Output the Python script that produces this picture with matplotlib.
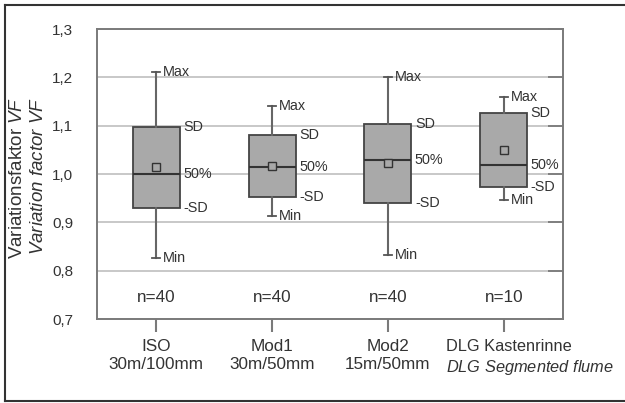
import matplotlib
matplotlib.use('Agg')
import matplotlib.pyplot as plt
from matplotlib.lines import Line2D
from matplotlib.transforms import ScaledTranslation

plt.rcParams['font.family'] = ['Liberation Sans', 'DejaVu Sans']
plt.rcParams['mathtext.fontset'] = 'custom'
plt.rcParams['mathtext.rm'] = 'Liberation Sans'
plt.rcParams['mathtext.it'] = 'Liberation Sans:italic'

# values
groups = ['ISO\n30m/100mm', 'Mod1\n30m/50mm', 'Mod2\n15m/50mm',
          'DLG Kastenrinne\n$\\mathit{DLG\\ Segmented\\ flume}$']
vmax = [1.212, 1.141, 1.200, 1.160]
sd_hi = [1.098, 1.081, 1.103, 1.126]
median = [1.000, 1.015, 1.030, 1.019]
sd_lo = [0.929, 0.952, 0.939, 0.974]
vmin = [0.826, 0.913, 0.832, 0.946]
mean = [1.015, 1.017, 1.022, 1.050]
counts = [40, 40, 40, 10]
yticks = [0.7, 0.8, 0.9, 1.0, 1.1, 1.2, 1.3]

txt = '#333333'
fill = '#a9a9a9'
axcol = '#7a7a7a'

fig = plt.figure(figsize=(6.25, 4.03), dpi=100)
ax = fig.add_axes([0.1552, 0.2084, 0.7456, 0.7196])

stats = []
for i in range(len(groups)):
    stats.append(dict(med=median[i], q1=sd_lo[i], q3=sd_hi[i],
                      whislo=vmin[i], whishi=vmax[i], mean=mean[i], fliers=[]))

pos = [1, 2, 3, 4]
bw = 0.405
ax.bxp(stats, positions=pos, widths=bw, capwidths=0.07, patch_artist=True,
       showmeans=True, showfliers=False,
       boxprops=dict(facecolor=fill, edgecolor='#444444', lw=1.3),
       medianprops=dict(color='#333333', lw=1.5),
       whiskerprops=dict(color='#666666', lw=1.5),
       capprops=dict(color='#555555', lw=1.3),
       meanprops=dict(marker='s', markersize=6, markerfacecolor=fill,
                      markeredgecolor='#333333', markeredgewidth=1),
       zorder=3)

# annotations next to each box
for i, p in enumerate(pos):
    ax.text(p + 0.06, vmax[i], 'Max', ha='left', va='center', fontsize=10.4, color=txt)
    ax.text(p + 0.06, vmin[i], 'Min', ha='left', va='center', fontsize=10.4, color=txt)
    xb = p + bw / 2 + 0.03
    ax.text(xb, sd_hi[i], 'SD', ha='left', va='center', fontsize=10.4, color=txt)
    ax.text(xb, median[i], '50%', ha='left', va='center', fontsize=10.4, color=txt)
    ax.text(xb, sd_lo[i], '-SD', ha='left', va='center', fontsize=10.4, color=txt)
    ax.text(p, 0.745, f'n={counts[i]}', ha='center', va='center', fontsize=12.3, color=txt)

ax.set_xlim(0.49, 4.51)
ax.set_ylim(0.7, 1.3)
ax.set_yticks(yticks)
ax.set_yticklabels([f'{v:.1f}'.replace('.', ',') for v in yticks])
ax.set_xticks(pos)
ax.set_xticklabels(groups, linespacing=1.25)

ax.yaxis.grid(True, color='#c4c4c4', lw=1.3)
ax.set_axisbelow(True)
for s in ax.spines.values():
    s.set_color(axcol)
    s.set_linewidth(1.4)

ax.tick_params(axis='y', left=False, right=True, direction='in', length=11,
               width=1.3, color=axcol, pad=17, labelsize=11, labelcolor=txt)
ax.tick_params(axis='x', direction='out', length=9.5, width=1.5, color=axcol,
               pad=5, labelsize=12.3, labelcolor=txt)

# DLG label is left aligned in the original; nudged so it stays inside the image
lab = ax.get_xticklabels()[3]
lab.set_horizontalalignment('left')
lab.set_fontsize(11.8)
lab.set_transform(lab.get_transform() + ScaledTranslation(-0.58, 0, fig.dpi_scale_trans))

fig.text(18 / 625, 1 - 97 / 403, 'Variationsfaktor $\\mathit{VF}$', rotation=90,
         ha='center', va='top', fontsize=13.5, color=txt)
fig.text(39 / 625, 1 - 97 / 403, '$\\mathit{Variation\\ factor\\ VF}$', rotation=90,
         ha='center', va='top', fontsize=13.5, color=txt)

# outer frame (right side runs off the image)
fl = 5 / 625
ft = 1 - 5 / 403
fb = 1 - 401 / 403
for xs, ys in [([fl, fl], [fb, ft]), ([fl, 1.0], [ft, ft]), ([fl, 1.0], [fb, fb])]:
    fig.add_artist(Line2D(xs, ys, transform=fig.transFigure, color='#333333', lw=1.5))

fig.savefig('out.png', dpi=100)
